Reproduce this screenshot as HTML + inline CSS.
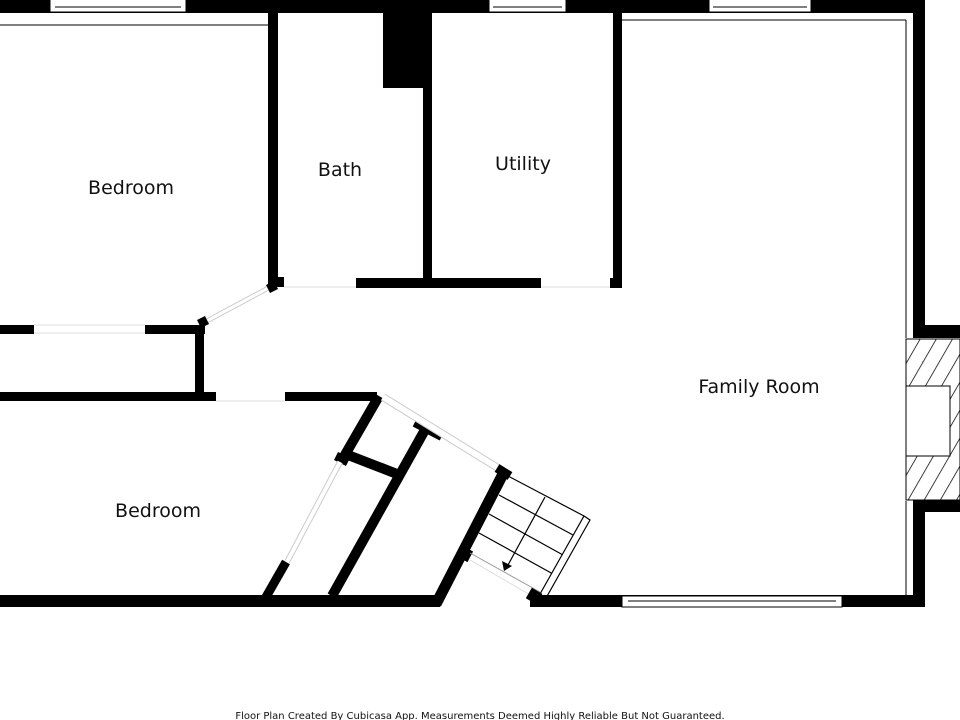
<!DOCTYPE html>
<html><head><meta charset="utf-8"><style>
html,body{margin:0;padding:0;background:#fff;width:960px;height:720px;overflow:hidden}
svg{display:block}
text{font-family:"DejaVu Sans","Liberation Sans",sans-serif;fill:#111}
</style></head><body>
<svg width="960" height="720" viewBox="0 0 960 720" xmlns="http://www.w3.org/2000/svg">
<defs>
<pattern id="h" width="14" height="14" patternUnits="userSpaceOnUse" patternTransform="rotate(30)">
<rect width="14" height="14" fill="#fff"/><line x1="0" y1="0" x2="0" y2="14" stroke="#000" stroke-width="1.5"/>
</pattern>
</defs>
<rect x="0" y="0" width="925" height="13" fill="#000"/>
<g fill="#fff" stroke="#000" stroke-width="1">
<rect x="50" y="-1" width="136" height="13"/><line x1="55" y1="7" x2="181" y2="7"/>
<rect x="489" y="-1" width="77" height="13"/><line x1="493" y1="7" x2="562" y2="7"/>
<rect x="709" y="-1" width="102" height="13"/><line x1="713" y1="7" x2="807" y2="7"/>
</g>
<line x1="0" y1="25" x2="268" y2="25" stroke="#000" stroke-width="1"/>
<line x1="622" y1="20" x2="906" y2="20" stroke="#000" stroke-width="1"/>
<line x1="906" y1="20" x2="906" y2="338" stroke="#000" stroke-width="1"/>
<line x1="906" y1="501" x2="906" y2="596" stroke="#000" stroke-width="1"/>
<rect x="913" y="0" width="12" height="338" fill="#000"/>
<rect x="913" y="325" width="47" height="13" fill="#000"/>
<rect x="913" y="500" width="47" height="12" fill="#000"/>
<rect x="913" y="500" width="12" height="107" fill="#000"/>
<rect x="906" y="339" width="54" height="161" fill="url(#h)" stroke="#000" stroke-width="1"/>
<rect x="906" y="386" width="44" height="70" fill="#fff" stroke="#000" stroke-width="1"/>
<rect x="268" y="12" width="10" height="275" fill="#000"/>
<rect x="268" y="277" width="16" height="10" fill="#000"/>
<rect x="383" y="12" width="48" height="76" fill="#000"/>
<rect x="423" y="12" width="9" height="276" fill="#000"/>
<rect x="613" y="12" width="9" height="276" fill="#000"/>
<rect x="356" y="278" width="185" height="10" fill="#000"/>
<rect x="610" y="278" width="12" height="10" fill="#000"/>
<line x1="284" y1="287" x2="356" y2="287" stroke="#ddd" stroke-width="1"/>
<line x1="541" y1="287" x2="610" y2="287" stroke="#ddd" stroke-width="1"/>
<line x1="205" y1="322" x2="272" y2="286" stroke="#ccc" stroke-width="5"/>
<line x1="205" y1="322" x2="272" y2="286" stroke="#fff" stroke-width="3"/>
<line x1="199" y1="324" x2="207" y2="320" stroke="#000" stroke-width="9"/>
<line x1="268" y1="289" x2="276" y2="285" stroke="#000" stroke-width="9"/>
<rect x="0" y="325" width="34" height="9" fill="#000"/>
<rect x="145" y="325" width="60" height="9" fill="#000"/>
<line x1="34" y1="329" x2="145" y2="329" stroke="#ddd" stroke-width="9"/>
<line x1="34" y1="329" x2="145" y2="329" stroke="#fff" stroke-width="7"/>
<rect x="195" y="325" width="9" height="76" fill="#000"/>
<rect x="0" y="392" width="216" height="9" fill="#000"/>
<rect x="285" y="392" width="92" height="9" fill="#000"/>
<line x1="216" y1="401" x2="285" y2="401" stroke="#ddd" stroke-width="1"/>
<line x1="379" y1="396" x2="342" y2="460" stroke="#000" stroke-width="10"/>
<line x1="336" y1="456" x2="348" y2="462" stroke="#000" stroke-width="9"/>
<line x1="348" y1="455" x2="397" y2="474" stroke="#000" stroke-width="10"/>
<line x1="426" y1="428" x2="332" y2="596" stroke="#000" stroke-width="10"/>
<line x1="415" y1="422" x2="442" y2="436" stroke="#000" stroke-width="10"/>
<line x1="340" y1="462" x2="287" y2="562" stroke="#ccc" stroke-width="6"/>
<line x1="340" y1="462" x2="287" y2="562" stroke="#fff" stroke-width="4"/>
<line x1="286" y1="562" x2="262" y2="604" stroke="#000" stroke-width="9"/>
<line x1="383" y1="397" x2="498" y2="468" stroke="#ccc" stroke-width="8"/>
<line x1="383" y1="397" x2="498" y2="468" stroke="#fff" stroke-width="6"/>
<line x1="504" y1="472" x2="436" y2="604" stroke="#000" stroke-width="11"/>
<line x1="497" y1="468" x2="510" y2="476" stroke="#000" stroke-width="9"/>
<rect x="460" y="548" width="11" height="12" fill="#000" transform="rotate(28 465 554)"/>
<g stroke="#000" stroke-width="1.2" fill="none">
<line x1="508" y1="476" x2="584" y2="516"/>
<line x1="499" y1="495" x2="573" y2="535"/>
<line x1="489" y1="514" x2="563" y2="555"/>
<line x1="479" y1="533" x2="553" y2="574"/>
<polygon points="584,516 590,520 546,598 540,594" fill="#fff"/>
<line x1="545" y1="497" x2="508" y2="565"/>
</g>
<line x1="470" y1="553" x2="540" y2="592" stroke="#999" stroke-width="1"/>
<polygon points="502,561 512,566 504,571" fill="#000"/>
<line x1="470" y1="560" x2="532" y2="596" stroke="#ddd" stroke-width="1"/>
<rect x="0" y="595" width="440" height="12" fill="#000"/>
<rect x="530" y="595" width="395" height="12" fill="#000"/>
<rect x="528" y="590" width="12" height="12" fill="#000" transform="rotate(30 534 596)"/>
<rect x="622" y="596" width="220" height="11" fill="#fff" stroke="#000" stroke-width="1"/>
<line x1="628" y1="601" x2="836" y2="601" stroke="#000" stroke-width="1"/>
<text x="131" y="194" font-size="19" text-anchor="middle">Bedroom</text>
<text x="340" y="176" font-size="19" text-anchor="middle">Bath</text>
<text x="523" y="170" font-size="19" text-anchor="middle">Utility</text>
<text x="759" y="393" font-size="19" text-anchor="middle">Family Room</text>
<text x="158" y="517" font-size="19" text-anchor="middle">Bedroom</text>
<text x="480" y="719" font-size="10" text-anchor="middle">Floor Plan Created By Cubicasa App. Measurements Deemed Highly Reliable But Not Guaranteed.</text>
</svg>
</body></html>
